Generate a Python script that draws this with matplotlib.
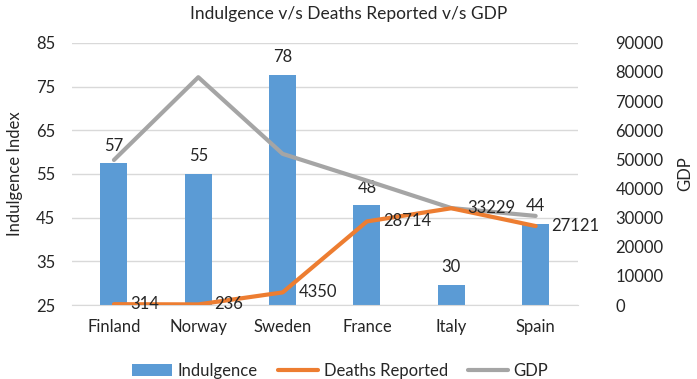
import matplotlib
matplotlib.use('Agg')
import matplotlib.pyplot as plt
import numpy as np

plt.rcParams.update({
    'font.family': ['Lato', 'DejaVu Sans'],
    'font.size': 12,
    'text.color': '#262626',
    'axes.labelcolor': '#262626',
    'xtick.color': '#262626',
    'ytick.color': '#262626',
})

countries = ['Finland', 'Norway', 'Sweden', 'France', 'Italy', 'Spain']
indulgence = [57.4, 55.1, 77.7, 47.8, 29.7, 43.6]
deaths = [314, 236, 4350, 28714, 33229, 27121]
gdp = [49800, 78200, 51900, 42700, 33300, 30600]

blue = '#5B9BD5'
orange = '#ED7D31'
grey = '#A5A5A5'

fig = plt.figure(figsize=(6.97, 3.79), dpi=100)
ax = fig.add_axes([0.103, 0.195, 0.726, 0.692])
ax2 = ax.twinx()

x = np.arange(len(countries))
bars = ax.bar(x, indulgence, width=0.32, color=blue, bottom=0, zorder=2, label='Indulgence')
ax.set_ylim(25, 85)
ax.set_yticks(range(25, 86, 10))
ax.set_xlim(-0.5, len(countries) - 0.5)
ax.set_xticks(x)
ax.set_xticklabels(countries)
ax.grid(axis='y', color='#D9D9D9', linewidth=1, zorder=0)
ax.set_axisbelow(True)
for s in ax.spines.values():
    s.set_visible(False)
ax.spines['bottom'].set_visible(True)
ax.spines['bottom'].set_color('#D9D9D9')
ax.tick_params(axis='y', length=0, pad=12)
ax.tick_params(axis='x', length=0, pad=10)
ax.set_ylabel('Indulgence Index', labelpad=9)

for xi, v in zip(x, indulgence):
    ax.text(xi, v + 2.2, f'{v:.0f}', ha='center', va='bottom')

ln_d, = ax2.plot(x, deaths, color=orange, linewidth=3, solid_capstyle='round', label='Deaths Reported', zorder=3)
ln_g, = ax2.plot(x, gdp, color=grey, linewidth=3, solid_capstyle='round', label='GDP', zorder=2)
ax2.set_ylim(0, 90000)
ax2.set_yticks(range(0, 90001, 10000))
for s in ax2.spines.values():
    s.set_visible(False)
ax2.tick_params(length=0, pad=27)
ax2.set_ylabel('GDP', labelpad=10)

for xi, v in zip(x, deaths):
    ax2.text(xi + 0.19, v, f'{v}', ha='left', va='center')

fig.suptitle('Indulgence v/s Deaths Reported v/s GDP', y=0.985, fontsize=12.5)

fig.legend(handles=[bars, ln_d, ln_g], loc='lower center', bbox_to_anchor=(0.488, -0.04),
           ncol=3, frameon=False, handlelength=2.4, columnspacing=1.2, handletextpad=0.35)

fig.savefig('out.png', dpi=100)
